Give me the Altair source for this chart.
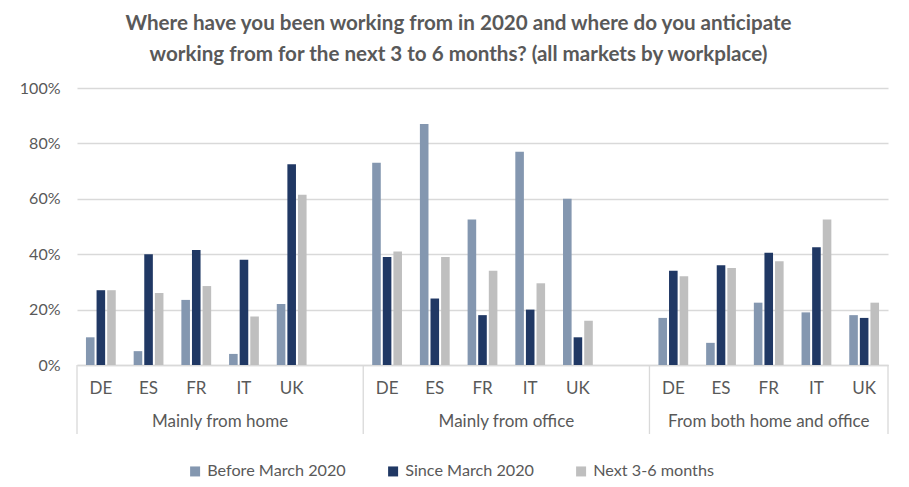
import altair as alt
import pandas as pd

# ---- data ----
groups = ["Mainly from home", "Mainly from office", "From both home and office"]
group_keys = ["home", "office", "both"]
countries = ["DE", "ES", "FR", "IT", "UK"]
series = ["Before March 2020", "Since March 2020", "Next 3-6 months"]
colors = ["#8497B0", "#203864", "#BFBFBF"]

before = [10, 5, 23.5, 4, 22, 73, 87, 52.5, 77, 60, 17, 8, 22.5, 19, 18]
since = [27, 40, 41.5, 38, 72.5, 39, 24, 18, 20, 10, 34, 36, 40.5, 42.5, 17]
nextm = [27, 26, 28.5, 17.5, 61.5, 41, 39, 34, 29.5, 16, 32, 35, 37.5, 52.5, 22.5]

y_ticks = [0, 20, 40, 60, 80, 100]

# ---- tables ----
rows = []
for gi, g in enumerate(group_keys):
    for ci, c in enumerate(countries):
        i = gi * 5 + ci
        for s, vals in zip(series, [before, since, nextm]):
            rows.append({"key": f"{g}|{c}", "series": s, "value": vals[i]})
df = pd.DataFrame(rows)

domain = []
for g in group_keys:
    domain += [f"{g}|{c}" for c in countries]
    if g != "both":
        domain.append(f"{g}|")

FONT = "Lato"
TXT = "#595959"
GRID = "#D9D9D9"

xscale = alt.Scale(domain=domain, paddingInner=0, paddingOuter=0)
xaxis = alt.Axis(title=None, labelExpr="split(datum.value, '|')[1]",
                 ticks=False, domainColor=GRID, domainWidth=1.3,
                 labelColor=TXT, labelFontSize=17, labelFont=FONT,
                 labelAngle=0, labelPadding=23, labelBaseline="middle",
                 labelOverlap=False, grid=False)

bars = alt.Chart(df).mark_bar().encode(
    x=alt.X("key:N", scale=xscale, sort=domain, axis=xaxis),
    y=alt.Y("value:Q", scale=alt.Scale(domain=[0, 100]),
            axis=alt.Axis(title=None, values=y_ticks, labelExpr="datum.value + '%'",
                          domain=False, ticks=False, grid=True, gridColor=GRID,
                          gridWidth=1.3, labelPadding=17, labelColor=TXT,
                          labelFontSize=16, labelFont=FONT)),
    xOffset=alt.XOffset("series:N", sort=series,
                        scale=alt.Scale(paddingInner=0.19, paddingOuter=0.845)),
    color=alt.Color("series:N", sort=series,
                    scale=alt.Scale(domain=series, range=colors),
                    legend=alt.Legend(title=None, orient="none", direction="horizontal",
                                      legendX=110, legendY=375, symbolType="square",
                                      symbolSize=100, symbolStrokeWidth=0,
                                      labelFontSize=16.2, labelColor=TXT, labelFont=FONT,
                                      columnPadding=39, labelOffset=4)),
)

seps = pd.DataFrame({"key": ["home|DE", "office|DE", "both|DE"]})
ends = pd.DataFrame({"key": ["both|UK"]})

rule_start = alt.Chart(seps).mark_rule(color=GRID, strokeWidth=1.3).encode(
    x=alt.X("key:N", scale=xscale, sort=domain, bandPosition=0, axis=xaxis),
    y=alt.value(277), y2=alt.value(346))
rule_end = alt.Chart(ends).mark_rule(color=GRID, strokeWidth=1.3).encode(
    x=alt.X("key:N", scale=xscale, sort=domain, bandPosition=1, axis=xaxis),
    y=alt.value(277), y2=alt.value(346))

lab6 = pd.DataFrame({"key": ["home|IT", "office|IT"], "label": groups[:2]})
lab5 = pd.DataFrame({"key": ["both|FR"], "label": groups[2:]})

text6 = alt.Chart(lab6).mark_text(font=FONT, fontSize=17, color=TXT, baseline="middle").encode(
    x=alt.X("key:N", scale=xscale, sort=domain, bandPosition=0, axis=xaxis),
    y=alt.value(334), text="label:N")
text5 = alt.Chart(lab5).mark_text(font=FONT, fontSize=17, color=TXT, baseline="middle").encode(
    x=alt.X("key:N", scale=xscale, sort=domain, bandPosition=0.5, axis=xaxis),
    y=alt.value(334), text="label:N")

chart = alt.layer(bars, rule_start, rule_end, text6, text5).properties(
    width=811, height=277,
    background="white",
    autosize=alt.AutoSizeParams(type="none"),
    padding={"left": 69, "top": 80, "right": 13, "bottom": 119},
    title=alt.TitleParams(
        text=["Where have you been working from in 2020 and where do you anticipate",
              "working from for the next 3 to 6 months? (all markets by workplace)"],
        font=FONT, fontSize=20.6, fontWeight="bold", color=TXT,
        anchor="middle", frame="group", dx=-24, offset=14, lineHeight=31),
).configure_view(stroke=None)

chart.save("out.html", embed_options={"renderer": "svg", "actions": False})
